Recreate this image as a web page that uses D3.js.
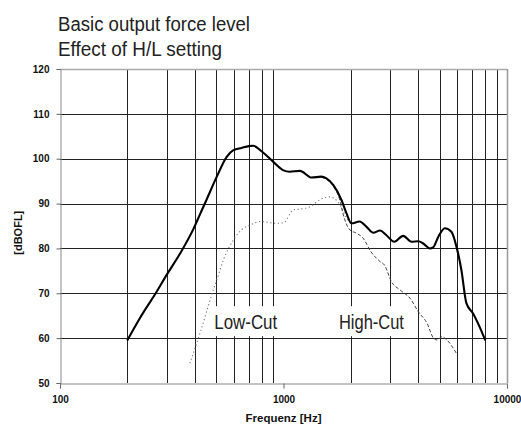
<!DOCTYPE html>
<html>
<head>
<meta charset="utf-8">
<script src="https://cdn.jsdelivr.net/npm/d3@7"></script>
<style>
  body { margin: 0; background: #fff; }
  svg { display: block; }
  .tick text { font-family: 'Liberation Sans', Arial, sans-serif; font-weight: bold; font-size: 10px; fill: #111; }
  .narrow { font-family: 'Liberation Sans', Arial, sans-serif; fill: #222; }
</style>
</head>
<body>
<div id="chart"></div>
<script>
// Daten: [Frequenz Hz, dBOFL]
const basicCurve = [
  [200, 59.5], [228, 64.5], [271, 70.4], [300, 74.1], [344, 78.8], [395, 84.3],
  [423, 87.6], [452, 90.8], [503, 96.0], [557, 100.4], [597, 101.9], [650, 102.4],
  [699, 102.8], [730, 102.9], [800, 101.6], [900, 99.3], [1000, 97.4], [1065, 97.1],
  [1185, 97.3], [1336, 95.8], [1476, 96.0], [1556, 95.6], [1672, 94.1], [1817, 90.8],
  [1914, 87.8], [2015, 85.6], [2190, 86.0], [2353, 84.8], [2523, 83.5], [2703, 84.0],
  [2880, 83.0], [3130, 81.5], [3430, 82.8], [3740, 81.5], [4010, 81.6], [4220, 81.1],
  [4520, 80.0], [4670, 80.2], [4930, 82.6], [5270, 84.5], [5640, 83.7], [5940, 80.4],
  [6250, 75.2], [6580, 67.8], [7050, 65.5], [7420, 63.3], [8000, 59.5]
];
const lowCutCurve = [
  [381, 54.4], [423, 61.1], [485, 70.7], [503, 73.0], [538, 77.4], [597, 81.9],
  [650, 84.2], [709, 85.2], [785, 86.0], [930, 85.6], [1000, 85.7], [1108, 88.6],
  [1200, 88.8], [1312, 89.3], [1500, 91.2], [1610, 91.5], [1750, 90.4], [1840, 88.6],
  [1914, 86.8], [2015, 85.6]
];
const highCutCurve = [
  [1476, 95.9], [1556, 95.4], [1672, 93.8], [1790, 90.6], [1840, 88.0], [1985, 84.1],
  [2120, 83.4], [2270, 82.3], [2460, 79.3], [2700, 77.1], [2830, 76.3], [3040, 72.6],
  [3330, 70.7], [3680, 68.9], [4010, 65.9], [4390, 63.3], [4690, 60.0], [4860, 59.6],
  [5120, 60.3], [5380, 59.6], [5940, 56.6]
];
const yTicks = [50, 60, 70, 80, 90, 100, 110, 120];
const xTicks = [100, 1000, 10000];
const xGrid = [200, 300, 400, 500, 600, 700, 800, 900, 2000, 3000, 4000, 5000, 6000, 7000, 8000, 9000];
const titleLines = ['Basic output force level', 'Effect of H/L setting'];
const curveLabels = [
  { text: 'Low-Cut', f: 500, db: 62.0 },
  { text: 'High-Cut', f: 1807, db: 62.0 }
];

// Canvas
const svg_width = 521;
const svg_height = 426;
const margin = { top: 69, right: 14, bottom: 43, left: 60 };
const width = svg_width - margin.left - margin.right;
const height = svg_height - margin.top - margin.bottom;

const svg = d3.select('#chart').append('svg')
  .attr('width', svg_width).attr('height', svg_height);
const g = svg.append('g').attr('transform', `translate(${margin.left},${margin.top})`);

const x = d3.scaleLog().domain([100, 10000]).range([0, width]);
const y = d3.scaleLinear().domain([50, 120]).range([height, 0]);

// Gitternetz
g.append('g').selectAll('line').data(yTicks.filter(d => d > 50 && d < 120)).join('line')
  .attr('x1', 0).attr('x2', width)
  .attr('y1', d => Math.round(y(d)) + 0.5).attr('y2', d => Math.round(y(d)) + 0.5)
  .attr('stroke', '#222').attr('stroke-width', 1);
g.append('g').selectAll('line').data(xGrid).join('line')
  .attr('x1', d => Math.round(x(d)) + 0.5).attr('x2', d => Math.round(x(d)) + 0.5)
  .attr('y1', 0).attr('y2', height)
  .attr('stroke', '#222').attr('stroke-width', 1);

// Rahmen oben / rechts
g.append('line').attr('x1', 0).attr('x2', width).attr('y1', 0.5).attr('y2', 0.5)
  .attr('stroke', '#aaa').attr('stroke-width', 1.5);
g.append('line').attr('x1', width + 0.5).attr('x2', width + 0.5).attr('y1', 0).attr('y2', height)
  .attr('stroke', '#999').attr('stroke-width', 1.5);

// Achsen
const yAxis = d3.axisLeft(y).tickValues(yTicks).tickSize(4).tickPadding(7);
g.append('g').attr('class', 'y axis').attr('transform', 'translate(0.5,0)').call(yAxis)
  .call(a => a.select('.domain').attr('stroke', '#888'))
  .call(a => a.selectAll('.tick line').attr('stroke', '#666'));

const xAxis = d3.axisBottom(x).tickValues(xTicks).tickFormat(d3.format('d')).tickSize(5).tickPadding(7);
g.append('g').attr('class', 'x axis').attr('transform', `translate(0,${height + 0.5})`).call(xAxis)
  .call(a => a.select('.domain').attr('stroke', '#888'))
  .call(a => a.selectAll('.tick line').attr('stroke', '#666'));

// Achsentitel
svg.append('text').text('Frequenz [Hz]')
  .attr('x', margin.left + x(1000)).attr('y', 422)
  .attr('text-anchor', 'middle')
  .style('font-family', "'Liberation Sans', Arial, sans-serif").style('font-weight', 'bold')
  .style('font-size', '11.5px').style('fill', '#111');
svg.append('text').text('[dBOFL]')
  .attr('transform', `translate(22,${margin.top + y(83.5)}) rotate(-90)`)
  .attr('text-anchor', 'middle')
  .style('font-family', "'Liberation Sans', Arial, sans-serif").style('font-weight', 'bold')
  .style('font-size', '11px').style('fill', '#111');

// Beschriftung mit weißem Kasten
const labelG = g.append('g').selectAll('g').data(curveLabels).join('g')
  .attr('transform', d => `translate(${x(d.f)},${y(d.db)})`);
labelG.append('rect')
  .attr('x', -4).attr('y', -23).attr('width', 70).attr('height', 30)
  .attr('fill', '#fff');
labelG.append('text').attr('class', 'narrow')
  .text(d => d.text)
  .attr('x', -2).attr('y', 0)
  .attr('textLength', d => d.text === 'Low-Cut' ? 63 : 65)
  .attr('lengthAdjust', 'spacingAndGlyphs')
  .style('font-size', '20px');

// Kurven
const line = d3.line().x(d => x(d[0])).y(d => y(d[1])).curve(d3.curveMonotoneX);
g.append('path').datum(lowCutCurve).attr('d', line)
  .attr('fill', 'none').attr('stroke', '#777').attr('stroke-width', 1.1)
  .attr('stroke-dasharray', '1.2,2.6');
g.append('path').datum(highCutCurve).attr('d', line)
  .attr('fill', 'none').attr('stroke', '#444').attr('stroke-width', 1)
  .attr('stroke-dasharray', '3.5,2');
g.append('path').datum(basicCurve).attr('d', line)
  .attr('fill', 'none').attr('stroke', '#000').attr('stroke-width', 2.1)
  .attr('stroke-linejoin', 'round');

// Titel
svg.append('g').selectAll('text').data(titleLines).join('text').attr('class', 'narrow')
  .text(d => d)
  .attr('x', 58).attr('y', (d, i) => 31 + i * 25)
  .attr('textLength', (d, i) => i === 0 ? 192 : 164)
  .attr('lengthAdjust', 'spacingAndGlyphs')
  .style('font-size', '19.5px');
</script>
</body>
</html>
